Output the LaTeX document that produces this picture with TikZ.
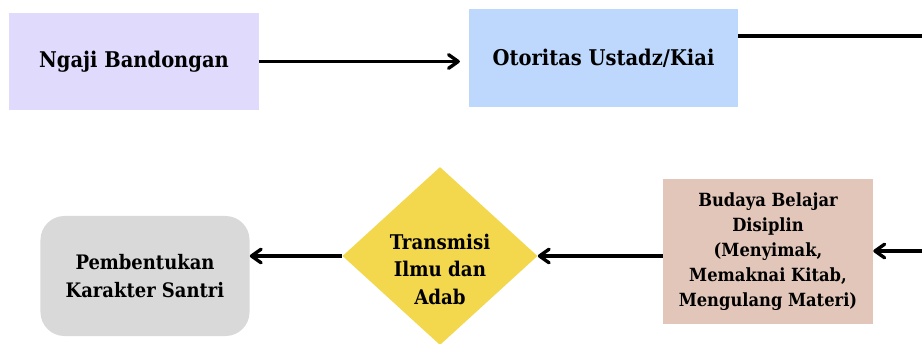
\documentclass[tikz,border=0pt]{standalone}
\usepackage{fontspec}
\setmainfont{DejaVu Serif Condensed}
\usetikzlibrary{shapes.geometric, arrows.meta}
\definecolor{lavender}{HTML}{E0DBFD}
\definecolor{skyblue}{HTML}{BDD8FC}
\definecolor{softgrey}{HTML}{D9D9D9}
\definecolor{mustard}{HTML}{F3D84E}
\definecolor{rosebrown}{HTML}{E3C6BA}
\tikzstyle{source} = [rectangle, minimum width=6.25cm, minimum height=2.425cm, text centered, fill=lavender, font=\bfseries\fontsize{15.4}{18}\selectfont]
\tikzstyle{authority} = [rectangle, minimum width=6.725cm, minimum height=2.45cm, text centered, fill=skyblue, font=\bfseries\fontsize{15.4}{18}\selectfont]
\tikzstyle{culture} = [rectangle, minimum width=5.25cm, minimum height=3.625cm, align=center, fill=rosebrown, font=\bfseries\fontsize{12.9}{17.7}\selectfont]
\tikzstyle{decision} = [diamond, aspect=1.1, minimum width=4.875cm, minimum height=4.45cm, inner sep=0pt, fill=mustard]
\tikzstyle{decisiontext} = [align=center, yshift=-0.33cm, font=\bfseries\fontsize{14.4}{19.5}\selectfont]
\tikzstyle{result} = [rectangle, rounded corners=0.6cm, minimum width=5.225cm, minimum height=3cm, align=center, fill=softgrey, font=\bfseries\fontsize{14.2}{20.5}\selectfont]
\tikzstyle{line} = [line width=2.4pt]
\tikzstyle{arrow} = [line width=2.4pt, -{Straight Barb[length=2.4mm, width=3.4mm, round]}]

\begin{document}
\begin{tikzpicture}[x=0.025cm, y=-0.025cm]
        \useasboundingbox (0,0) rectangle (922,343);
        \node [source] at (134,61.5) (ngaji) {Ngaji Bandongan};
        \node [authority] at (603.5,58) (otoritas) {Otoritas Ustadz/Kiai};
        \node [culture] at (768,251.5) (budaya) {Budaya Belajar\\Disiplin\\(Menyimak,\\Memaknai Kitab,\\Mengulang Materi)};
        \node [decision, label={[decisiontext]center:Transmisi\\Ilmu dan\\Adab}] at (440,256) (transmisi) {};
        \node [result] at (145,276) (karakter) {Pembentukan\\Karakter Santri};
        \coordinate (topout) at (922,36);
        \coordinate (rightin) at (922,251);
        \draw [arrow, shorten >=0.22cm] (ngaji) -- (ngaji -| otoritas.west);
        \draw [line] (otoritas.east |- topout) -- (topout);
        \draw [arrow] (rightin) -- (budaya.east |- rightin);
        \draw [arrow] (budaya.west |- transmisi.east) -- (transmisi.east);
        \draw [arrow] (transmisi.west) -- (transmisi.west -| karakter.east);
        \end{tikzpicture}
\end{document}
